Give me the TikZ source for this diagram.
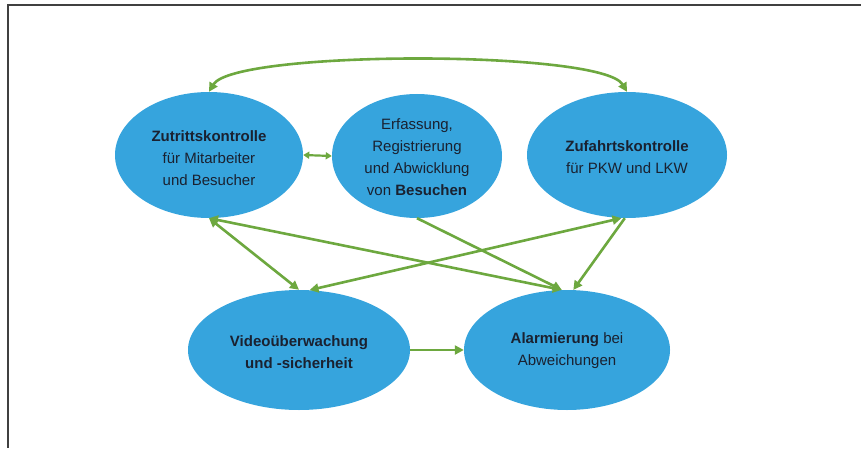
\documentclass[tikz,border=0pt]{standalone}
\usepackage{fontspec}
\setmainfont{Liberation Sans}
\usetikzlibrary{shapes.geometric,arrows.meta}
\definecolor{ellblue}{HTML}{36A4DD}
\definecolor{arrgreen}{HTML}{6DA83F}
\definecolor{txtcol}{HTML}{1A2130}
\begin{document}
\begin{tikzpicture}[x=1pt,y=1pt,
  ell/.style={ellipse, fill=ellblue, draw=none, inner sep=0pt},
  lbl/.style={align=center, text=txtcol, font=\fontsize{15}{22}\selectfont, inner sep=0pt},
  conn/.style={draw=arrgreen, line width=2.6pt, -{Triangle[length=9pt,width=9pt]}},
  both/.style={conn, {Triangle[length=9pt,width=9pt]}-{Triangle[length=9pt,width=9pt]}},
  smallboth/.style={draw=arrgreen, line width=2.2pt, {Triangle[length=6pt,width=7pt]}-{Triangle[length=6pt,width=7pt]}},
]
\useasboundingbox (0,0) rectangle (861,448);
\draw[draw=black!75, line width=1.3pt] (861,443) -- (8,443) -- (8,0);

% ellipses
\node[ell, minimum width=188pt, minimum height=126pt] (zut) at (209,293) {};
\node[ell, minimum width=170pt, minimum height=124pt] (erf) at (417,292) {};
\node[ell, minimum width=200pt, minimum height=126pt] (zuf) at (627,293) {};
\node[ell, minimum width=222pt, minimum height=120pt] (vid) at (299,98) {};
\node[ell, minimum width=206pt, minimum height=120pt] (alm) at (567,98) {};

% labels
\node[lbl] (zutT) at (209,290) {\textbf{Zutrittskontrolle}\\für Mitarbeiter\\und Besucher};
\node[lbl] (erfT) at (417,291) {Erfassung,\\Registrierung\\und Abwicklung\\von \textbf{Besuchen}};
\node[lbl] (zufT) at (627,291) {\textbf{Zufahrtskontrolle}\\für PKW und LKW};
\node[lbl] (vidT) at (299,96) {\textbf{Videoüberwachung}\\\textbf{und -sicherheit}};
\node[lbl] (almT) at (567,97) {\textbf{Alarmierung} bei\\Abweichungen};

% connectors
\draw[both] (zut.north) .. controls +(25,42) and +(-25,42) .. (zuf.north);
\draw[smallboth] (zut.east) -- (erf.west);
\draw[both] (zut.south) -- (vid.north);
\draw[both] (zut.south) -- (alm.95);
\draw[conn] (erf.south) -- (alm.95);
\draw[both] (zuf.-95) -- (vid.80);
\draw[conn] (zuf.-92) -- (alm.84);
\draw[conn] (vid.east) -- (alm.west);
\end{tikzpicture}
\end{document}
